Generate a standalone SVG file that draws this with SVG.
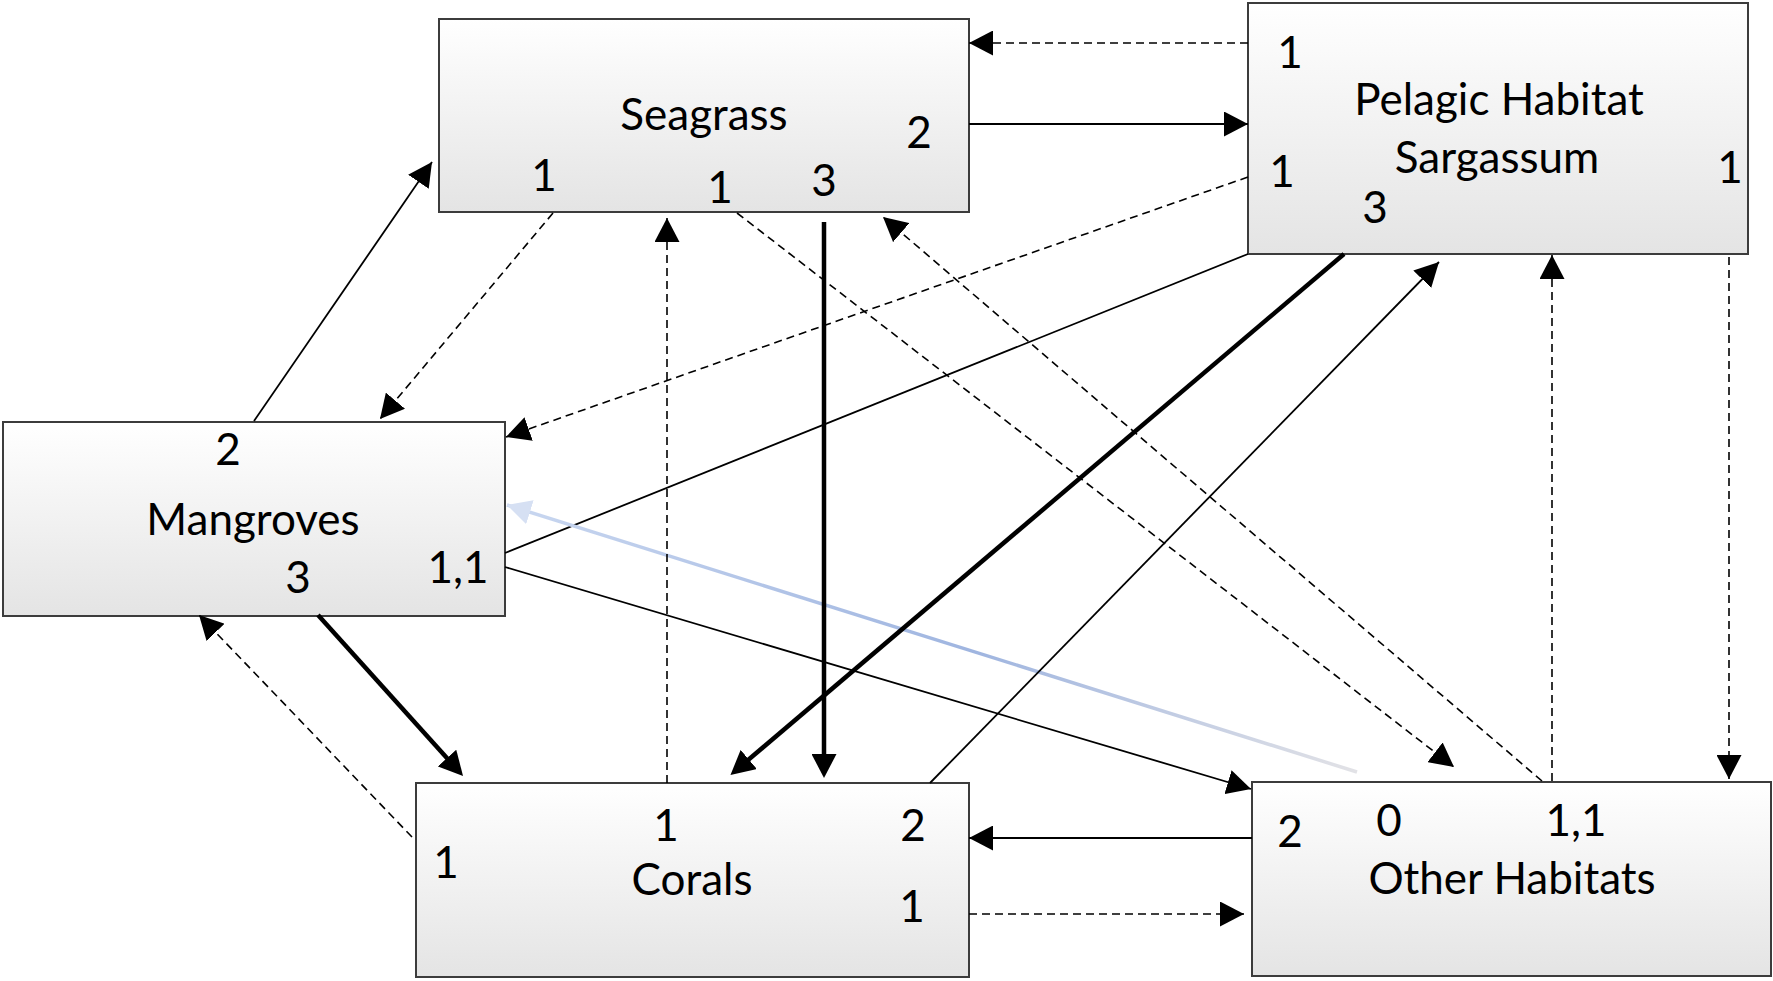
<svg xmlns="http://www.w3.org/2000/svg" width="1773" height="981" viewBox="0 0 1773 981">
<style>
.box{fill:url(#bg);stroke:#3c3c3c;stroke-width:2}
.t{font-family:Lato,"Open Sans","Liberation Sans",sans-serif;font-size:44px;fill:#000;text-anchor:middle}
.c{fill:none;stroke:#000;stroke-width:1.8}
.d{fill:none;stroke:#000;stroke-width:1.6;stroke-dasharray:8 5}
.k{fill:none;stroke:#000;stroke-width:4.5}
.ah{marker-end:url(#ah)}
.akt{marker-end:url(#akt)}
</style>
<defs>
<linearGradient id="bg" x1="0" y1="0" x2="0" y2="1">
<stop offset="0" stop-color="#ffffff"/>
<stop offset="1" stop-color="#e4e4e4"/>
</linearGradient>
<linearGradient id="blue" gradientUnits="userSpaceOnUse" x1="1357" y1="772" x2="507" y2="505">
<stop offset="0" stop-color="#e2e2e6"/>
<stop offset="0.45" stop-color="#9fb5e0"/>
<stop offset="1" stop-color="#c9d7f0"/>
</linearGradient>
<marker id="ah" markerUnits="userSpaceOnUse" markerWidth="24" markerHeight="25" refX="24" refY="12.5" orient="auto">
<path d="M0,0 L24,12.5 L0,25 z" fill="#000"/>
</marker>
<marker id="akt" markerUnits="userSpaceOnUse" markerWidth="24" markerHeight="25" refX="12" refY="12.5" orient="auto">
<path d="M0,0 L24,12.5 L0,25 z" fill="#000"/>
</marker>
<marker id="ahb" markerUnits="userSpaceOnUse" markerWidth="24" markerHeight="25" refX="24" refY="12.5" orient="auto">
<path d="M0,0 L24,12.5 L0,25 z" fill="#d6e0f3"/>
</marker>
</defs>
<rect width="1773" height="981" fill="#fff"/>
<g id="seagrass">
<rect class="box" x="439" y="19" width="530" height="193"/>
<text class="t" x="704" y="130">Seagrass</text>
<text class="t" x="919" y="148">2</text>
<text class="t" x="544" y="191">1</text>
<text class="t" x="720" y="203">1</text>
<text class="t" x="824" y="196">3</text>
</g>
<g id="pelagic">
<rect class="box" x="1248" y="3" width="500" height="251"/>
<text class="t" x="1499" y="115">Pelagic Habitat</text>
<text class="t" x="1497" y="173">Sargassum</text>
<text class="t" x="1290" y="68">1</text>
<text class="t" x="1282" y="187">1</text>
<text class="t" x="1375" y="223">3</text>
<text class="t" x="1730" y="183">1</text>
</g>
<g id="mangroves">
<rect class="box" x="3" y="422" width="502" height="194"/>
<text class="t" x="253" y="535">Mangroves</text>
<text class="t" x="228" y="465">2</text>
<text class="t" x="298" y="593">3</text>
<text class="t" x="458" y="583">1,1</text>
</g>
<g id="corals">
<rect class="box" x="416" y="783" width="553" height="194"/>
<text class="t" x="692" y="895">Corals</text>
<text class="t" x="666" y="841">1</text>
<text class="t" x="913" y="841">2</text>
<text class="t" x="446" y="878">1</text>
<text class="t" x="912" y="922">1</text>
</g>
<g id="other">
<rect class="box" x="1252" y="782" width="519" height="194"/>
<text class="t" x="1512" y="894">Other Habitats</text>
<text class="t" x="1290" y="847">2</text>
<text class="t" x="1389" y="836">0</text>
<text class="t" x="1576" y="836">1,1</text>
</g>
<g id="connectors">
<path class="d ah" d="M1248,43 L969,43"/>
<path class="c ah" d="M969,124 L1248,124"/>
<path class="d ah" d="M1248,177 L506,437"/>
<path class="d ah" d="M553,213 L380,419"/>
<path class="c ah" d="M254,421 L432,162"/>
<path class="c" d="M505,553 L1248,254"/>
<path class="c ah" d="M505,567 L1251,789"/>
<path fill="none" stroke="url(#blue)" stroke-width="3.5" marker-end="url(#ahb)" d="M1357,772 L507,505"/>
<path class="k akt" d="M318,615 L455,767"/>
<path class="d ah" d="M412,837 L199,615"/>
<path class="d ah" d="M667,783 L667,218"/>
<path class="k akt" d="M824,222 L824,766"/>
<path class="k akt" d="M1344,254 L739.6,767.2"/>
<path class="c ah" d="M930,783 L1439,262"/>
<path class="d ah" d="M737,213 L1454,767"/>
<path class="d ah" d="M1542,781 L883,217"/>
<path class="d ah" d="M1552,781 L1552,255"/>
<path class="d ah" d="M1729,257 L1729,779"/>
<path class="c ah" d="M1252,838 L969,838"/>
<path class="d ah" d="M969,914 L1244,914"/>
</g>
</svg>
